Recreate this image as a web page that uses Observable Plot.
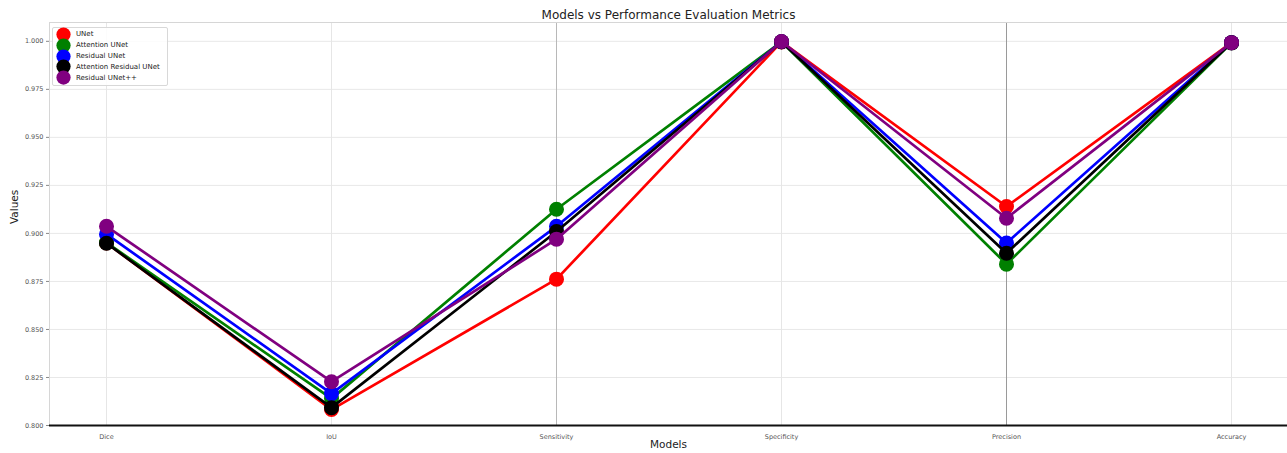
<!DOCTYPE html>
<html>
<head>
<meta charset="utf-8">
<script src="https://cdn.jsdelivr.net/npm/d3@7"></script>
<script src="https://cdn.jsdelivr.net/npm/@observablehq/plot@0.6"></script>
<style>
  html, body { margin: 0; padding: 0; background: #fff; }
  #wrap { position: relative; width: 1287px; height: 453px; font-family: "DejaVu Sans", sans-serif; }
  #legend { position: absolute; left: 52px; top: 27px; width: 114px; padding: 1px 0 2px 0;
    border: 1px solid #d8d8d8; border-radius: 2px; background: rgba(255,255,255,0.85); }
  .item { display: flex; align-items: center; height: 10.8px; font-size: 7px; color: #222; }
  .sw { width: 15px; height: 15px; border-radius: 50%; margin: 0 5px 0 3px; flex: none; transform: scale(0.95); }
</style>
</head>
<body>
<div id="wrap"></div>
<script>
const metrics = ["Dice", "IoU", "Sensitivity", "Specificity", "Precision", "Accuracy"];
const models = ["UNet", "Attention UNet", "Residual UNet", "Attention Residual UNet", "Residual UNet++"];
const colors = ["red", "green", "blue", "black", "purple"];
const unet = [0.8950, 0.8083, 0.8762, 0.9997, 0.9140, 0.9993];
const attentionUnet = [0.8952, 0.8140, 0.9126, 0.9998, 0.8840, 0.9992];
const residualUnet = [0.8996, 0.8166, 0.9037, 0.9998, 0.8950, 0.9993];
const attentionResidualUnet = [0.8949, 0.8093, 0.9010, 0.9998, 0.8897, 0.9992];
const residualUnetPP = [0.9037, 0.8228, 0.8970, 0.9999, 0.9079, 0.9993];
const yTicks = [0.800, 0.825, 0.850, 0.875, 0.900, 0.925, 0.950, 0.975, 1.000];

const series = [unet, attentionUnet, residualUnet, attentionResidualUnet, residualUnetPP];
const data = [];
series.forEach((vals, i) => vals.forEach((v, j) => data.push({model: models[i], metric: metrics[j], value: v})));

const gridColor = {Dice: "#e6e6e6", IoU: "#e6e6e6", Sensitivity: "#b8b8b8", Specificity: "#e6e6e6", Precision: "#9a9a9a", Accuracy: "#e6e6e6"};

const marks = [
  Plot.ruleY(yTicks, {stroke: "#e8e8e8", strokeWidth: 1}),
  Plot.ruleX(metrics, {stroke: d => gridColor[d], strokeWidth: 1}),
  Plot.frame({stroke: "#d6d6d6", strokeWidth: 1}),
];
models.forEach((m, i) => {
  const rows = data.filter(d => d.model === m);
  marks.push(Plot.line(rows, {x: "metric", y: "value", stroke: colors[i], strokeWidth: 2.7}));
  marks.push(Plot.dot(rows, {x: "metric", y: "value", fill: colors[i], r: 7.5, stroke: "none"}));
});
marks.push(
  Plot.ruleY([0.8], {stroke: "#111", strokeWidth: 2}),
  Plot.axisY({ticks: yTicks, tickFormat: d3.format(".3f"), tickSize: 3, tickPadding: 3, fontSize: 6.5, stroke: "#888", fill: "#555", label: null}),
  Plot.axisX({tickSize: 0, tickPadding: 9, fontSize: 6.5, fill: "#555", label: null}),
  Plot.text(["Models vs Performance Evaluation Metrics"], {frameAnchor: "top", dy: -12, fontSize: 12, fill: "#222"}),
  Plot.text(["Models"], {frameAnchor: "bottom", dy: 22, fontSize: 10.5, fill: "#222"}),
  Plot.text(["Values"], {frameAnchor: "left", dx: -35, rotate: -90, fontSize: 10.5, fill: "#222"})
);

const chart = Plot.plot({
  width: 1287,
  height: 453,
  marginLeft: 49,
  marginRight: 0,
  marginTop: 22,
  marginBottom: 28,
  style: {fontFamily: "DejaVu Sans, sans-serif", background: "#fff", overflow: "visible"},
  x: {type: "point", domain: metrics, padding: 0.25},
  y: {domain: [0.8, 1.0098]},
  marks
});
const wrap = document.getElementById("wrap");
wrap.appendChild(chart);

const legend = document.createElement("div");
legend.id = "legend";
models.forEach((m, i) => {
  const it = document.createElement("div");
  it.className = "item";
  const sw = document.createElement("span");
  sw.className = "sw";
  sw.style.background = colors[i];
  it.appendChild(sw);
  it.appendChild(document.createTextNode(m));
  legend.appendChild(it);
});
wrap.appendChild(legend);
</script>
</body>
</html>
